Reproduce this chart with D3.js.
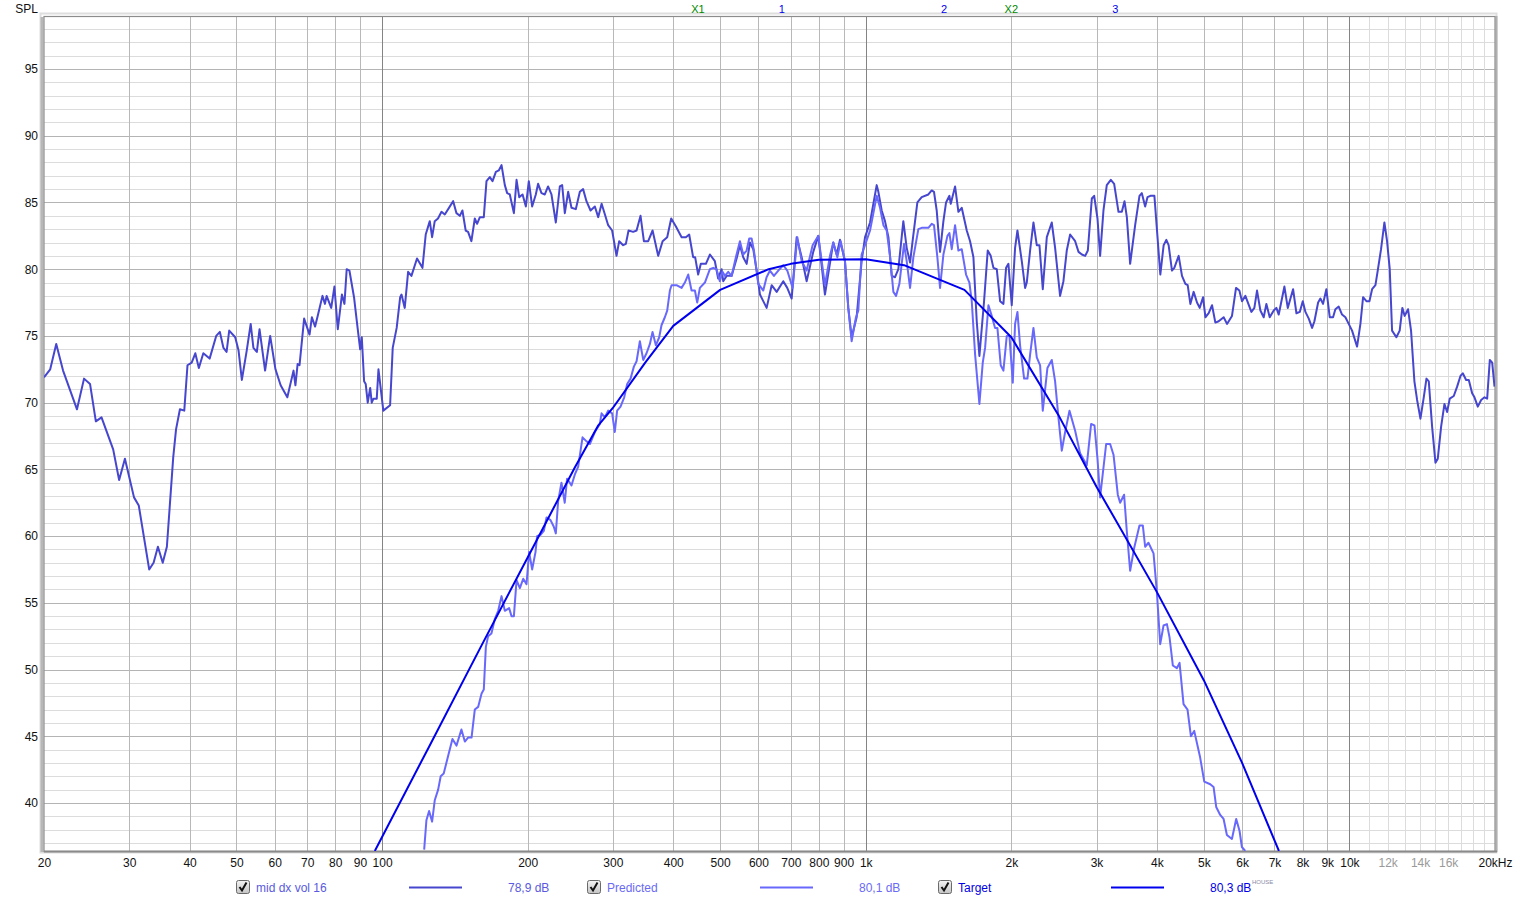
<!DOCTYPE html>
<html><head><meta charset="utf-8">
<script src="https://cdn.jsdelivr.net/npm/d3@7"></script>
<style>
html,body{margin:0;padding:0;background:#fff;}
svg{display:block;font-family:"Liberation Sans",Arial,sans-serif;}
</style></head>
<body>
<svg id="chart" width="1516" height="902"></svg>
<script>
// ---------------- DATA ----------------
const midDx = [[20.0,71.9],[20.6,72.5],[21.2,74.4],[21.9,72.4],[23.4,69.5],[24.2,71.8],[24.9,71.4],[25.6,68.6],[26.3,68.9],[27.8,66.5],[28.6,64.2],[29.4,65.8],[30.7,62.9],[31.4,62.3],[33.0,57.5],[33.7,58.0],[34.4,59.2],[35.2,58.0],[35.9,59.2],[37.0,65.9],[37.5,68.0],[38.2,69.5],[39.0,69.4],[39.6,72.8],[40.4,73.0],[41.1,73.7],[41.8,72.6],[42.7,73.7],[44.0,73.3],[45.4,75.0],[46.2,75.3],[47.0,74.1],[47.7,73.8],[48.3,75.4],[49.7,74.9],[50.5,73.9],[51.3,71.7],[52.5,73.9],[53.5,75.9],[54.2,74.1],[55.1,73.8],[55.8,75.5],[57.3,72.4],[58.7,75.0],[60.2,72.5],[61.7,71.3],[63.7,70.4],[65.6,72.4],[66.2,71.3],[66.9,72.9],[67.5,72.8],[69.0,76.3],[70.8,75.1],[71.6,76.4],[72.7,75.7],[73.6,76.5],[75.3,78.0],[76.2,77.4],[76.8,78.0],[78.5,77.1],[79.7,78.7],[81.0,75.5],[82.6,78.1],[83.6,77.4],[84.5,80.0],[85.6,79.9],[87.5,77.9],[89.0,75.6],[90.1,74.0],[90.8,74.9],[91.8,71.6],[92.5,71.4],[93.4,70.0],[94.5,71.1],[95.2,70.0],[96.0,70.3],[97.5,70.3],[98.3,72.5],[100.6,69.4],[103.9,69.8],[105.2,74.1],[107.2,75.6],[109.0,77.9],[109.7,78.1],[111.4,77.1],[113.2,79.8],[115.0,79.5],[118.1,80.8],[121.2,80.1],[123.1,82.6],[125.5,83.6],[126.9,82.4],[128.5,83.6],[130.5,83.8],[132.7,84.3],[134.8,84.1],[140.3,85.1],[142.5,84.2],[144.8,84.0],[146.6,84.4],[148.9,82.9],[150.6,82.8],[153.0,82.1],[155.5,83.8],[157.2,83.4],[159.3,83.9],[162.3,83.9],[164.4,86.6],[167.0,86.9],[169.2,86.6],[171.9,87.3],[174.3,87.4],[176.6,87.8],[179.4,86.3],[181.4,85.7],[183.7,85.6],[187.3,84.2],[189.7,86.7],[192.1,85.4],[195.2,85.6],[198.3,84.7],[201.1,86.6],[204.3,84.7],[207.9,85.6],[210.2,86.4],[213.6,85.7],[217.0,85.6],[220.4,86.2],[224.0,85.6],[228.7,83.5],[233.1,86.2],[235.7,86.3],[238.7,84.2],[242.5,85.8],[246.4,84.6],[251.5,84.5],[256.4,85.8],[260.4,86.0],[264.6,85.1],[269.8,84.4],[275.4,84.7],[279.8,83.9],[284.4,84.9],[288.9,84.1],[293.4,83.3],[299.0,82.9],[305.3,81.0],[309.2,82.1],[315.1,81.8],[319.2,81.9],[323.3,82.9],[330.5,82.8],[335.9,82.9],[342.3,84.0],[347.8,82.1],[355.0,82.1],[362.5,82.9],[372.3,81.0],[380.2,82.1],[388.6,82.4],[396.1,83.8],[405.1,83.2],[416.2,82.4],[424.8,82.4],[431.5,82.6],[439.7,80.9],[443.9,80.9],[450.3,79.6],[456.1,80.4],[467.2,80.4],[476.2,81.1],[487.6,80.6],[495.3,79.3],[503.5,80.0],[507.4,79.1],[515.7,79.5],[528.1,79.5],[540.8,80.8],[549.4,81.8],[558.1,80.9],[567.3,80.4],[576.2,82.0],[585.4,81.5],[595.0,79.9],[604.4,78.1],[623.9,77.1],[639.0,78.8],[654.4,78.3],[675.3,79.1],[688.2,78.6],[702.8,77.8],[719.8,82.4],[737.1,80.9],[754.8,79.1],[778.9,81.3],[797.8,82.5],[823.5,78.1],[856.8,82.0],[870.7,81.1],[884.5,82.2],[905.9,80.6],[920.3,77.1],[935.1,74.9],[957.6,76.4],[980.6,80.6],[996.7,82.4],[1020.7,83.5],[1053.6,86.3],[1062,85.8],[1079,84.4],[1096,83.6],[1114,82.4],[1131.7,79.5],[1149.7,79.4],[1168,80.0],[1196,83.6],[1215.3,81.6],[1234.8,80.5],[1254.6,82.6],[1278.7,85.0],[1305.3,85.4],[1347.4,85.6],[1369,85.9],[1384,85.8],[1402,84.4],[1424.5,81.3],[1447.4,83.6],[1465.8,85.0],[1489.4,85.5],[1499,84.9],[1530,86.2],[1554.5,84.3],[1579.4,84.6],[1617.6,82.9],[1643.3,82.1],[1669.7,80.9],[1696.3,76.1],[1718,73.5],[1756.5,77.6],[1787.5,81.4],[1813.2,81.0],[1836.6,80.1],[1866,80.0],[1895.8,77.6],[1926,77.4],[1950.6,80.1],[1972.4,80.4],[2004,77.3],[2036,81.6],[2059,82.9],[2102,80.6],[2135.6,78.6],[2152.5,79.0],[2187,81.4],[2222,83.5],[2257.6,81.8],[2286.4,81.8],[2323,78.5],[2368,82.4],[2424.5,83.5],[2463.4,81.6],[2522.4,78.0],[2563,79.1],[2604,81.4],[2646,82.6],[2710,82.1],[2754,81.3],[2798,81.1],[2842.5,81.0],[2878.8,81.4],[2934,85.3],[2967,85.5],[3014,83.8],[3052,81.0],[3101,84.4],[3150.6,86.3],[3211.6,86.7],[3263,86.4],[3331,84.3],[3384.6,84.3],[3427.7,85.1],[3466.3,83.9],[3521,80.4],[3606,83.3],[3681,85.5],[3722.6,85.7],[3782,84.7],[3824,85.4],[3877,85.5],[3952,85.5],[4065,79.6],[4130,81.8],[4183,82.2],[4229,81.8],[4297,79.9],[4345,80.1],[4436,81.0],[4507,79.5],[4580,78.9],[4631,78.8],[4690,77.4],[4764,78.3],[4841,77.5],[4903,77.1],[4982,77.9],[5038,76.4],[5118,76.7],[5200,77.3],[5283,76.0],[5367,76.1],[5496,76.4],[5584,75.9],[5718,76.5],[5829,78.6],[5922,78.4],[5998,77.6],[6094,78.0],[6271,76.8],[6361,77.1],[6442,78.4],[6546,76.9],[6650,76.4],[6735,77.4],[6843,76.4],[6975,76.9],[7064,77.1],[7143,76.6],[7339,78.7],[7457,77.1],[7648,78.5],[7771,76.7],[7896,76.8],[8009,77.6],[8111,76.8],[8241,76.3],[8373,75.6],[8466,76.1],[8616,77.5],[8710,77.8],[8821,77.4],[8960,78.5],[9106,76.4],[9252,76.4],[9354,77.0],[9504,77.2],[9656,76.6],[9811,76.4],[9968,75.9],[10128,75.4],[10372,74.2],[10538,75.9],[10673,77.9],[10844,77.6],[11000,77.6],[11141,78.5],[11319,78.8],[11444,79.9],[11626,81.5],[11813,83.5],[11964,82.1],[12117,80.0],[12252,75.4],[12505,74.9],[12705,75.4],[12867,77.1],[13011,76.5],[13220,77.0],[13411,75.4],[13627,71.6],[13803,70.2],[14023,68.8],[14248,70.4],[14431,71.8],[14592,71.6],[14825,68.2],[15063,65.5],[15231,65.8],[15475,68.2],[15723,69.9],[15922,69.3],[16125,70.3],[16436,70.5],[16700,71.2],[16968,72.0],[17157,72.2],[17432,71.7],[17654,71.7],[17938,70.7],[18138,70.4],[18428,69.7],[18723,70.2],[19024,70.4],[19267,70.3],[19513,73.2],[19734,73.0],[19955,71.2]];

const predicted = [[122.2,36.5],[123.5,38.7],[125.1,39.4],[126.9,38.6],[128.5,40.2],[130.6,41.0],[132.2,42.0],[134.1,42.2],[136.9,43.5],[139.8,44.8],[142.5,44.3],[145.9,45.5],[148.3,44.6],[150.6,44.9],[153.1,44.9],[155.5,47.0],[158.0,47.2],[160.6,48.2],[162.3,48.5],[163.9,51.7],[165.7,52.5],[168.3,52.7],[171.1,53.8],[173.8,54.4],[176.6,55.5],[179.4,54.4],[183.1,54.6],[185.2,54.0],[187.3,54.0],[189.7,56.7],[192.7,56.1],[195.8,56.8],[198.9,56.4],[201.4,58.8],[204.3,57.5],[207.6,58.8],[209.2,60.0],[212.6,60.1],[216.0,60.4],[218.8,61.4],[223.0,61.2],[226.5,60.7],[228.7,60.2],[231.2,62.6],[234.9,64.0],[238.6,62.5],[241.3,64.3],[246.4,63.8],[250.3,64.6],[254.4,65.2],[259.7,67.4],[264.7,67.1],[268.9,66.9],[275.4,67.8],[282.0,68.4],[284.3,69.2],[288.8,68.9],[293.4,69.4],[299.0,69.2],[302.8,67.8],[306.2,69.4],[311.2,69.7],[316.7,70.4],[321.2,71.4],[326.4,71.8],[331.6,72.7],[335.9,73.1],[341.2,74.6],[346.7,73.2],[352.2,73.7],[357.9,74.4],[362.4,75.3],[368.2,74.3],[374.1,74.9],[378.2,75.8],[384.3,76.4],[388.6,76.9],[393.6,78.4],[396.8,78.8],[406.3,78.8],[416.1,78.6],[422.7,79.0],[429.5,79.6],[436.4,78.4],[443.4,78.4],[448.3,77.5],[454.0,78.6],[465.0,79.0],[476.2,80.0],[483.8,80.1],[491.6,80.0],[499.3,79.1],[505.8,79.8],[511.4,79.5],[519.6,79.8],[528.1,79.5],[538.9,80.9],[549.4,82.1],[558.1,81.1],[567.1,81.4],[574.3,82.3],[580.8,82.3],[587.3,81.4],[599.5,78.9],[614.0,78.4],[623.7,79.4],[633.8,79.9],[645.9,79.5],[659.5,79.9],[675.3,80.3],[688.3,79.9],[706.1,78.6],[722.0,82.4],[737.1,80.6],[754.8,79.9],[776.6,81.8],[797.8,82.5],[823.5,78.8],[843.4,81.0],[857.0,82.0],[873.5,80.9],[887.4,82.1],[905.8,80.6],[920.3,77.1],[935.1,74.6],[954.6,76.4],[965.2,76.9],[980.6,81.1],[996.7,81.8],[1020.7,82.9],[1053.6,85.5],[1070.5,84.6],[1087.6,83.3],[1105,82.9],[1123,80.9],[1140.6,78.3],[1155.2,78.0],[1173.7,78.9],[1200,81.9],[1215.3,80.6],[1234.8,78.6],[1254.6,80.9],[1284.7,83.0],[1305.3,83.1],[1347.4,83.1],[1369,83.4],[1384,83.3],[1406.3,80.9],[1424.5,78.6],[1447.4,81.1],[1475.4,82.5],[1489.4,82.7],[1506,81.5],[1530,83.3],[1554.5,81.4],[1579.4,81.5],[1612.2,79.6],[1638,79.0],[1656.5,77.6],[1683.2,73.6],[1718,69.9],[1745.6,73.0],[1765.1,74.1],[1793.4,77.3],[1822,76.5],[1851,75.6],[1871.6,75.6],[1901.5,72.8],[1926,72.4],[1957,75.0],[1982,75.0],[2013.8,71.5],[2036,75.9],[2059,76.8],[2085,74.3],[2125.5,71.8],[2159.5,71.8],[2187,73.6],[2222,75.6],[2257.6,73.4],[2293.7,72.8],[2323,69.4],[2349,71.0],[2375,72.6],[2424.5,73.2],[2463.4,71.6],[2502.7,68.9],[2543,66.4],[2584,67.8],[2638,69.4],[2710,67.9],[2775,66.2],[2864,65.3],[2924,68.4],[2971,68.3],[3014,65.8],[3052,62.9],[3141,66.9],[3201,66.9],[3253,66.1],[3320,63.1],[3357,62.5],[3421,63.1],[3465,60.4],[3521,57.4],[3589,59.1],[3681,60.8],[3740,60.8],[3782,59.2],[3842,59.5],[3936,58.7],[3999,55.8],[4063,51.9],[4128,53.3],[4195,53.4],[4248,52.4],[4315,50.3],[4398,50.1],[4455,50.5],[4540,47.4],[4627,47.0],[4702,45.0],[4777,45.4],[4914,43.4],[5011,41.6],[5155,41.4],[5238,41.2],[5304,39.7],[5406,39.1],[5494,38.8],[5581,37.6],[5716,37.3],[5834,38.8],[5928,37.9],[5994,36.7],[6090,36.4]];

const target = [[96.6,36.4],[100,37.45],[125,44.2],[160,51.7],[200,58.4],[250,65.1],[280,68.3],[300,69.6],[350,73.0],[400,75.75],[500,78.45],[630,80.0],[700,80.4],[800,80.7],[1000,80.75],[1200,80.3],[1600,78.45],[2000,74.9],[2500,69.1],[3000,63.7],[4000,55.8],[5000,49.2],[6000,43.0],[7150,36.4]];

const xTickValues = [20,30,40,50,60,70,80,90,100,200,300,400,500,600,700,800,900,1000,2000,3000,4000,5000,6000,7000,8000,9000,10000,12000,14000,16000,20000];
const xTickLabels = ["20","30","40","50","60","70","80","90","100","200","300","400","500","600","700","800","900","1k","2k","3k","4k","5k","6k","7k","8k","9k","10k","12k","14k","16k","20kHz"];
const xMinorLabels = ["12k","14k","16k"];
const yTickValues = [40,45,50,55,60,65,70,75,80,85,90,95];
const gridMajorFreqs = [100,1000,10000];
const gridMidFreqs = [30,40,50,60,70,80,90,200,300,400,500,600,700,800,900,2000,3000,4000,5000,6000,7000,8000,9000];
const gridFineFreqs = [11000,12000,13000,14000,15000,16000,17000,18000,19000];

const markerLabels = [{label:"X1",freq:450,kind:"x"},{label:"1",freq:671,kind:"n"},{label:"2",freq:1452,kind:"n"},{label:"X2",freq:2000,kind:"x"},{label:"3",freq:3280,kind:"n"}];

const legendNames = ["mid dx vol 16","Predicted","Target"];
const legendValues = ["78,9 dB","80,1 dB","80,3 dB"];

// ---------------- LAYOUT / STYLE ----------------
const L=44, R=1495, T=17, B=851;
const colors = {mid:"#4646cf", pred:"#6868fc", target:"#0000ee"};
const legendTextColors = ["#5a5ae0","#6a6af5","#0000e6"];
const lineColors = [colors.mid, colors.pred, colors.target];

const svg = d3.select("#chart");
const x = d3.scaleLog().domain([20,20000]).range([L,R]);
const y = d3.scaleLinear().domain([36.4,98.9]).range([B,T]);

// plot background
svg.append("rect").attr("x",L).attr("y",T).attr("width",R-L).attr("height",B-T).attr("fill","#fff");

// horizontal grid
const gH = svg.append("g");
d3.range(37,99).forEach(v=>{
  gH.append("line").attr("x1",L).attr("x2",R).attr("y1",Math.round(y(v))+0.5).attr("y2",Math.round(y(v))+0.5)
    .attr("stroke", v%5===0 ? "#b4b4b4" : "#dcdcdc").attr("stroke-width",1);
});
// vertical grid
const gV = svg.append("g");
function vline(f,col){
  const px = Math.round(x(f))+0.5;
  gV.append("line").attr("x1",px).attr("x2",px).attr("y1",T).attr("y2",B).attr("stroke",col).attr("stroke-width",1);
}
gridFineFreqs.forEach(f=>vline(f,"#dcdcdc"));
gridMidFreqs.forEach(f=>vline(f,"#b8b8b8"));
gridMajorFreqs.forEach(f=>vline(f,"#848484"));

// frame (bevel)
svg.append("rect").attr("x",L-3.5).attr("y",T-3.5).attr("width",R-L+5).attr("height",B-T+5)
  .attr("fill","none").attr("stroke","#dedede").attr("stroke-width",2);
svg.append("line").attr("x1",L-2).attr("x2",L-2).attr("y1",T).attr("y2",B+1).attr("stroke","#b8b8b8").attr("stroke-width",3);
svg.append("line").attr("x1",R+1.5).attr("x2",R+1.5).attr("y1",T-1).attr("y2",B+1).attr("stroke","#b0b0b0").attr("stroke-width",2);
svg.append("rect").attr("x",L).attr("y",T-0.5).attr("width",R-L).attr("height",B-T+1)
  .attr("fill","none").attr("stroke","#8c8c8c").attr("stroke-width",1.2);
svg.append("line").attr("x1",L).attr("x2",R+2).attr("y1",B+0.5).attr("y2",B+0.5).attr("stroke","#8a8a8a").attr("stroke-width",2);

// clip
svg.append("clipPath").attr("id","plotclip").append("rect").attr("x",L).attr("y",T).attr("width",R-L).attr("height",B-T);

const line = d3.line().x(d=>x(d[0])).y(d=>y(d[1]));
const gLines = svg.append("g").attr("clip-path","url(#plotclip)");
[[midDx,colors.mid],[predicted,colors.pred],[target,colors.target]].forEach(([data,col])=>{
  gLines.append("path").datum(data).attr("d",line).attr("fill","none").attr("stroke",col)
    .attr("stroke-width",2).attr("stroke-linejoin","round");
});

// axes
const xAxis = d3.axisBottom(x).tickValues(xTickValues).tickFormat((d,i)=>xTickLabels[i]).tickSize(0).tickPadding(7);
const gx = svg.append("g").attr("transform",`translate(0,${B})`).call(xAxis);
gx.select(".domain").remove();
gx.selectAll("text").attr("font-size",12).attr("font-family","Liberation Sans, Arial, sans-serif")
  .attr("fill",(d,i)=> xMinorLabels.includes(xTickLabels[i]) ? "#9a9a9a" : "#111");

const yAxis = d3.axisLeft(y).tickValues(yTickValues).tickFormat(d3.format("d")).tickSize(0).tickPadding(6);
const gy = svg.append("g").attr("transform",`translate(${L},0)`).call(yAxis);
gy.select(".domain").remove();
gy.selectAll("text").attr("font-size",12).attr("font-family","Liberation Sans, Arial, sans-serif").attr("fill","#111");

svg.append("text").attr("x",38).attr("y",12.5).attr("text-anchor","end").attr("font-size",12).attr("fill","#111").text("SPL");

// top markers
markerLabels.forEach(m=>{
  svg.append("text").attr("x",x(m.freq)).attr("y",12.5).attr("text-anchor","middle").attr("font-size",11)
    .attr("fill", m.kind==="x" ? "#008a00" : "#0000ee").text(m.label);
});

// legend
const legX = [236,587,938];
const defs = svg.append("defs");
const grad = defs.append("linearGradient").attr("id","cbgrad").attr("x1",0).attr("y1",0).attr("x2",0).attr("y2",1);
grad.append("stop").attr("offset","0%").attr("stop-color","#f4f4f4");
grad.append("stop").attr("offset","100%").attr("stop-color","#c4c4c4");
legendNames.forEach((name,i)=>{
  const g = svg.append("g").attr("transform",`translate(${legX[i]},880)`);
  g.append("rect").attr("x",0.5).attr("y",0.5).attr("width",13).attr("height",13).attr("rx",2)
    .attr("fill","url(#cbgrad)").attr("stroke","#6a6a6a");
  g.append("path").attr("d","M3.5,7 L6,10.5 L10.5,2.5").attr("fill","none").attr("stroke","#111").attr("stroke-width",2);
  g.append("text").attr("x",20).attr("y",11.5).attr("font-size",12).attr("fill",legendTextColors[i]).text(name);
  g.append("line").attr("x1",173).attr("x2",226).attr("y1",7.5).attr("y2",7.5).attr("stroke",lineColors[i]).attr("stroke-width",2);
  const vt = g.append("text").attr("x",272).attr("y",11.5).attr("font-size",12).attr("fill",legendTextColors[i]).text(legendValues[i]);
  if(i===2){
    g.append("text").attr("x",314).attr("y",4).attr("font-size",6).attr("fill","#8a8aa8").text("HOUSE");
  }
});
</script>
</body></html>
